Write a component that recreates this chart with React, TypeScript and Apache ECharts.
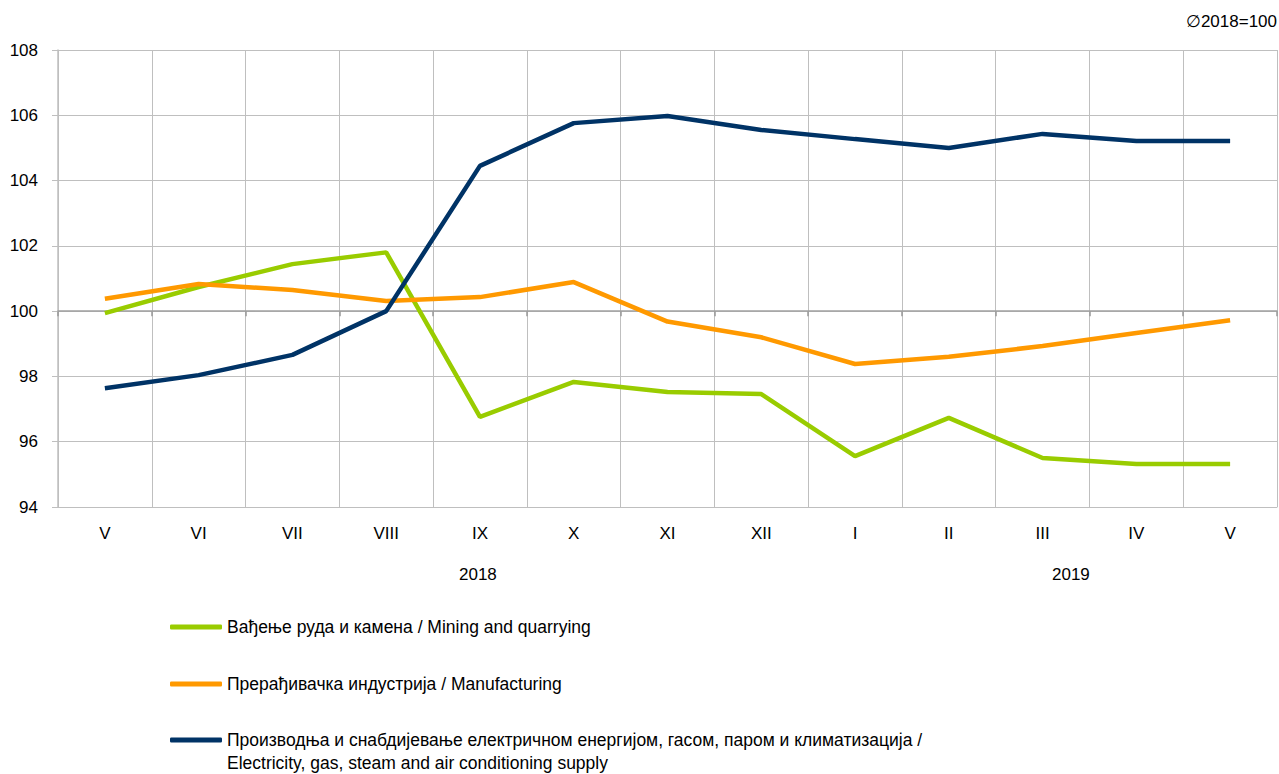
import React, { useEffect, useRef } from "react";
import * as echarts from "echarts";

const categories = ["V", "VI", "VII", "VIII", "IX", "X", "XI", "XII", "I", "II", "III", "IV", "V"];
const years = ["2018", "2019"];
const yTicks = { min: 94, max: 108, interval: 2 };

const seriesNames = [
  "Вађење руда и камена / Mining and quarrying",
  "Прерађивачка индустрија / Manufacturing",
  "Производња и снабдијевање електричном енергијом, гасом, паром и климатизација / Electricity, gas, steam and air conditioning supply",
];
const legendLines3 = [
  "Производња и снабдијевање електричном енергијом, гасом, паром и климатизација /",
  "Electricity, gas, steam and air conditioning supply",
];

const mining = [99.94, 100.74, 101.44, 101.8, 96.76, 97.83, 97.52, 97.46, 95.56, 96.73, 95.5, 95.32, 95.32];
const manufacturing = [100.38, 100.83, 100.65, 100.31, 100.43, 100.89, 99.68, 99.2, 98.38, 98.6, 98.93, 99.33, 99.72];
const electricity = [97.64, 98.04, 98.66, 100.0, 104.45, 105.76, 105.98, 105.55, 105.27, 105.0, 105.43, 105.21, 105.21];

const colors = ["#99CC00", "#FF9900", "#003366"];

const FONT = "'Liberation Sans', Arial, sans-serif";

export default function App() {
  const ref = useRef<HTMLDivElement>(null);
  useEffect(() => {
    if (!ref.current) return;
    const chart = echarts.init(ref.current, null, { renderer: "svg" });
    const gridTop = 50;
    const gridBottom = 267;
    const gridHeight = 774 - gridTop - gridBottom;
    const crossOffset = -(gridHeight * (100 - yTicks.min)) / (yTicks.max - yTicks.min);

    const legendBase = {
      orient: "vertical" as const,
      left: 170,
      padding: 0,
      itemWidth: 52,
      itemHeight: 5,
      icon: "roundRect",
      itemGap: 10,
      textStyle: { fontFamily: FONT, fontSize: 17.5, color: "#000", lineHeight: 20 },
    };

    chart.setOption({
      animation: false,
      color: colors,
      textStyle: { fontFamily: FONT },
      title: {
        text: "∅2018=100",
        right: 2,
        top: 13,
        padding: 0,
        textStyle: { fontFamily: FONT, fontSize: 17, fontWeight: "normal", color: "#000" },
      },
      grid: { left: 58, right: 2, top: gridTop, bottom: gridBottom, containLabel: false },
      legend: [
        { ...legendBase, top: 617, data: [seriesNames[0]] },
        { ...legendBase, top: 674, data: [seriesNames[1]] },
        { ...legendBase, top: 730, data: [seriesNames[2]], formatter: () => legendLines3[0] },
      ],
      xAxis: [
        {
          type: "category",
          data: categories,
          boundaryGap: true,
          axisLine: { show: true, lineStyle: { color: "#BFBFBF", width: 1 } },
          axisTick: { show: false },
          axisLabel: { color: "#000", fontSize: 17, fontFamily: FONT, margin: 18, interval: 0 },
          splitLine: { show: true, interval: 0, lineStyle: { color: "#BFBFBF", width: 1 } },
        },
        {
          type: "category",
          data: categories,
          boundaryGap: true,
          position: "bottom",
          offset: crossOffset,
          axisLine: { show: true, lineStyle: { color: "#A0A0A0", width: 1.5 } },
          axisTick: { show: true, interval: 0, length: 5, lineStyle: { color: "#999999", width: 1.5 } },
          axisLabel: { show: false },
          splitLine: { show: false },
        },
      ],
      yAxis: {
        type: "value",
        min: yTicks.min,
        max: yTicks.max,
        interval: yTicks.interval,
        axisLine: { show: true, lineStyle: { color: "#BFBFBF", width: 1.5 } },
        axisTick: { show: true, length: 6, lineStyle: { color: "#BFBFBF" } },
        axisLabel: { color: "#000", fontSize: 17, fontFamily: FONT, margin: 20 },
        splitLine: { show: true, lineStyle: { color: "#BFBFBF", width: 1 } },
      },
      graphic: [
        {
          type: "text",
          left: 459,
          top: 566,
          style: { text: years[0], fontSize: 17, fontFamily: FONT, fill: "#000" },
        },
        {
          type: "text",
          left: 1052,
          top: 566,
          style: { text: years[1], fontSize: 17, fontFamily: FONT, fill: "#000" },
        },
        {
          type: "text",
          left: 227,
          top: 754,
          style: { text: legendLines3[1], fontSize: 17.5, fontFamily: FONT, fill: "#000" },
        },
      ],
      series: [
        { name: seriesNames[0], type: "line", data: mining, showSymbol: false, symbol: "none", lineStyle: { width: 4.5, color: colors[0] } },
        { name: seriesNames[1], type: "line", data: manufacturing, showSymbol: false, symbol: "none", lineStyle: { width: 4.5, color: colors[1] } },
        { name: seriesNames[2], type: "line", data: electricity, showSymbol: false, symbol: "none", lineStyle: { width: 4.5, color: colors[2] } },
      ],
    });
    return () => chart.dispose();
  }, []);
  return <div ref={ref} style={{ width: 1279, height: 774, position: "absolute", left: 0, top: 0 }} />;
}
